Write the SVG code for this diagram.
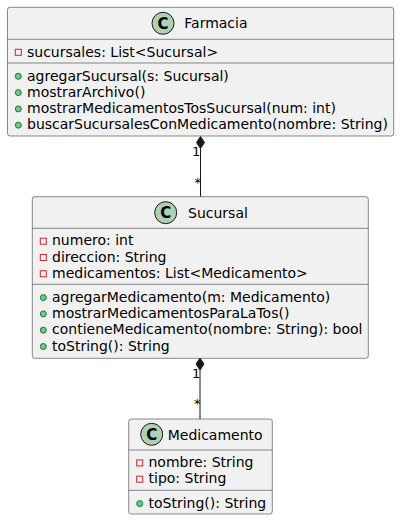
<svg xmlns="http://www.w3.org/2000/svg" width="400" height="520" viewBox="0 0 400 520">
<style>
.box{fill:#F1F1F1;stroke:#181818;stroke-width:0.5}
.sep{stroke:#181818;stroke-width:0.5}
.t{font-family:"DejaVu Sans",sans-serif;font-size:14px;fill:#000}
.lbl{font-family:"DejaVu Sans",sans-serif;font-size:13px;fill:#000}
.ci{fill:#ADD1B2;stroke:#181818;stroke-width:1}
.ct{font-family:"DejaVu Sans",sans-serif;font-size:15px;font-weight:bold;fill:#000;text-anchor:middle}
.priv{fill:none;stroke:#C82930;stroke-width:1}
.pub{fill:#84BE84;stroke:#038048;stroke-width:1}
.edge{stroke:#181818;stroke-width:1;fill:none}
.dia{fill:#181818;stroke:#181818;stroke-width:1}
</style>
<g id="connectors">
<line class="edge" x1="200.5" y1="148" x2="200.5" y2="196.7"/>
<polygon class="dia" points="200.5,136.5 196.5,142.5 200.5,148.5 204.5,142.5"/>
<text class="lbl" x="192" y="156">1</text>
<text class="lbl" x="194.5" y="186.5">*</text>
<line class="edge" x1="200" y1="370" x2="200" y2="419"/>
<polygon class="dia" points="200,358 196,364 200,370 204,364"/>
<text class="lbl" x="192" y="378">1</text>
<text class="lbl" x="194" y="408">*</text>
</g>
<g id="Farmacia">
<rect class="box" x="7.5" y="7.3" width="386.2" height="128.7" rx="2.5"/>
<line class="sep" x1="7.5" y1="39.3" x2="393.7" y2="39.3"/>
<line class="sep" x1="7.5" y1="63" x2="393.7" y2="63"/>
<circle class="ci" cx="163" cy="23.3" r="11"/>
<text class="ct" x="163" y="28.7">C</text>
<text class="t" x="184.3" y="28.3">Farmacia</text>
<rect class="priv" x="15.3" y="49.3" width="6" height="6"/>
<text class="t" x="27" y="56.5">sucursales: List&lt;Sucursal&gt;</text>
<circle class="pub" cx="18.3" cy="76.3" r="3"/>
<text class="t" x="27" y="80.5">agregarSucursal(s: Sucursal)</text>
<circle class="pub" cx="18.3" cy="92.6" r="3"/>
<text class="t" x="27" y="96.8">mostrarArchivo()</text>
<circle class="pub" cx="18.3" cy="108.9" r="3"/>
<text class="t" x="27" y="113.1">mostrarMedicamentosTosSucursal(num: int)</text>
<circle class="pub" cx="18.3" cy="125.2" r="3"/>
<text class="t" x="27" y="129.4">buscarSucursalesConMedicamento(nombre: String)</text>
</g>
<g id="Sucursal">
<rect class="box" x="32.3" y="196.7" width="336" height="161.6" rx="2.5"/>
<line class="sep" x1="32.3" y1="228.3" x2="368.3" y2="228.3"/>
<line class="sep" x1="32.3" y1="284.3" x2="368.3" y2="284.3"/>
<circle class="ci" cx="165.7" cy="212.7" r="11"/>
<text class="ct" x="165.7" y="218.1">C</text>
<text class="t" x="188" y="217.7">Sucursal</text>
<rect class="priv" x="40.3" y="238.2" width="6" height="6"/>
<text class="t" x="52" y="245.4">numero: int</text>
<rect class="priv" x="40.3" y="254.5" width="6" height="6"/>
<text class="t" x="52" y="261.7">direccion: String</text>
<rect class="priv" x="40.3" y="270.8" width="6" height="6"/>
<text class="t" x="52" y="278">medicamentos: List&lt;Medicamento&gt;</text>
<circle class="pub" cx="43.3" cy="297.6" r="3"/>
<text class="t" x="52" y="301.8">agregarMedicamento(m: Medicamento)</text>
<circle class="pub" cx="43.3" cy="313.9" r="3"/>
<text class="t" x="52" y="318.1">mostrarMedicamentosParaLaTos()</text>
<circle class="pub" cx="43.3" cy="330.2" r="3"/>
<text class="t" x="52" y="334.4">contieneMedicamento(nombre: String): bool</text>
<circle class="pub" cx="43.3" cy="346.5" r="3"/>
<text class="t" x="52" y="350.7">toString(): String</text>
</g>
<g id="Medicamento">
<rect class="box" x="128.7" y="419" width="143.6" height="95" rx="2.5"/>
<line class="sep" x1="128.7" y1="450" x2="272.3" y2="450"/>
<line class="sep" x1="128.7" y1="490.3" x2="272.3" y2="490.3"/>
<circle class="ci" cx="151.7" cy="434.3" r="11"/>
<text class="ct" x="151.7" y="439.7">C</text>
<text class="t" x="167.7" y="440">Medicamento</text>
<rect class="priv" x="136.7" y="459.9" width="6" height="6"/>
<text class="t" x="148.5" y="467.1">nombre: String</text>
<rect class="priv" x="136.7" y="476.2" width="6" height="6"/>
<text class="t" x="148.5" y="483.4">tipo: String</text>
<circle class="pub" cx="139.7" cy="503.6" r="3"/>
<text class="t" x="148.5" y="507.8">toString(): String</text>
</g>
</svg>
